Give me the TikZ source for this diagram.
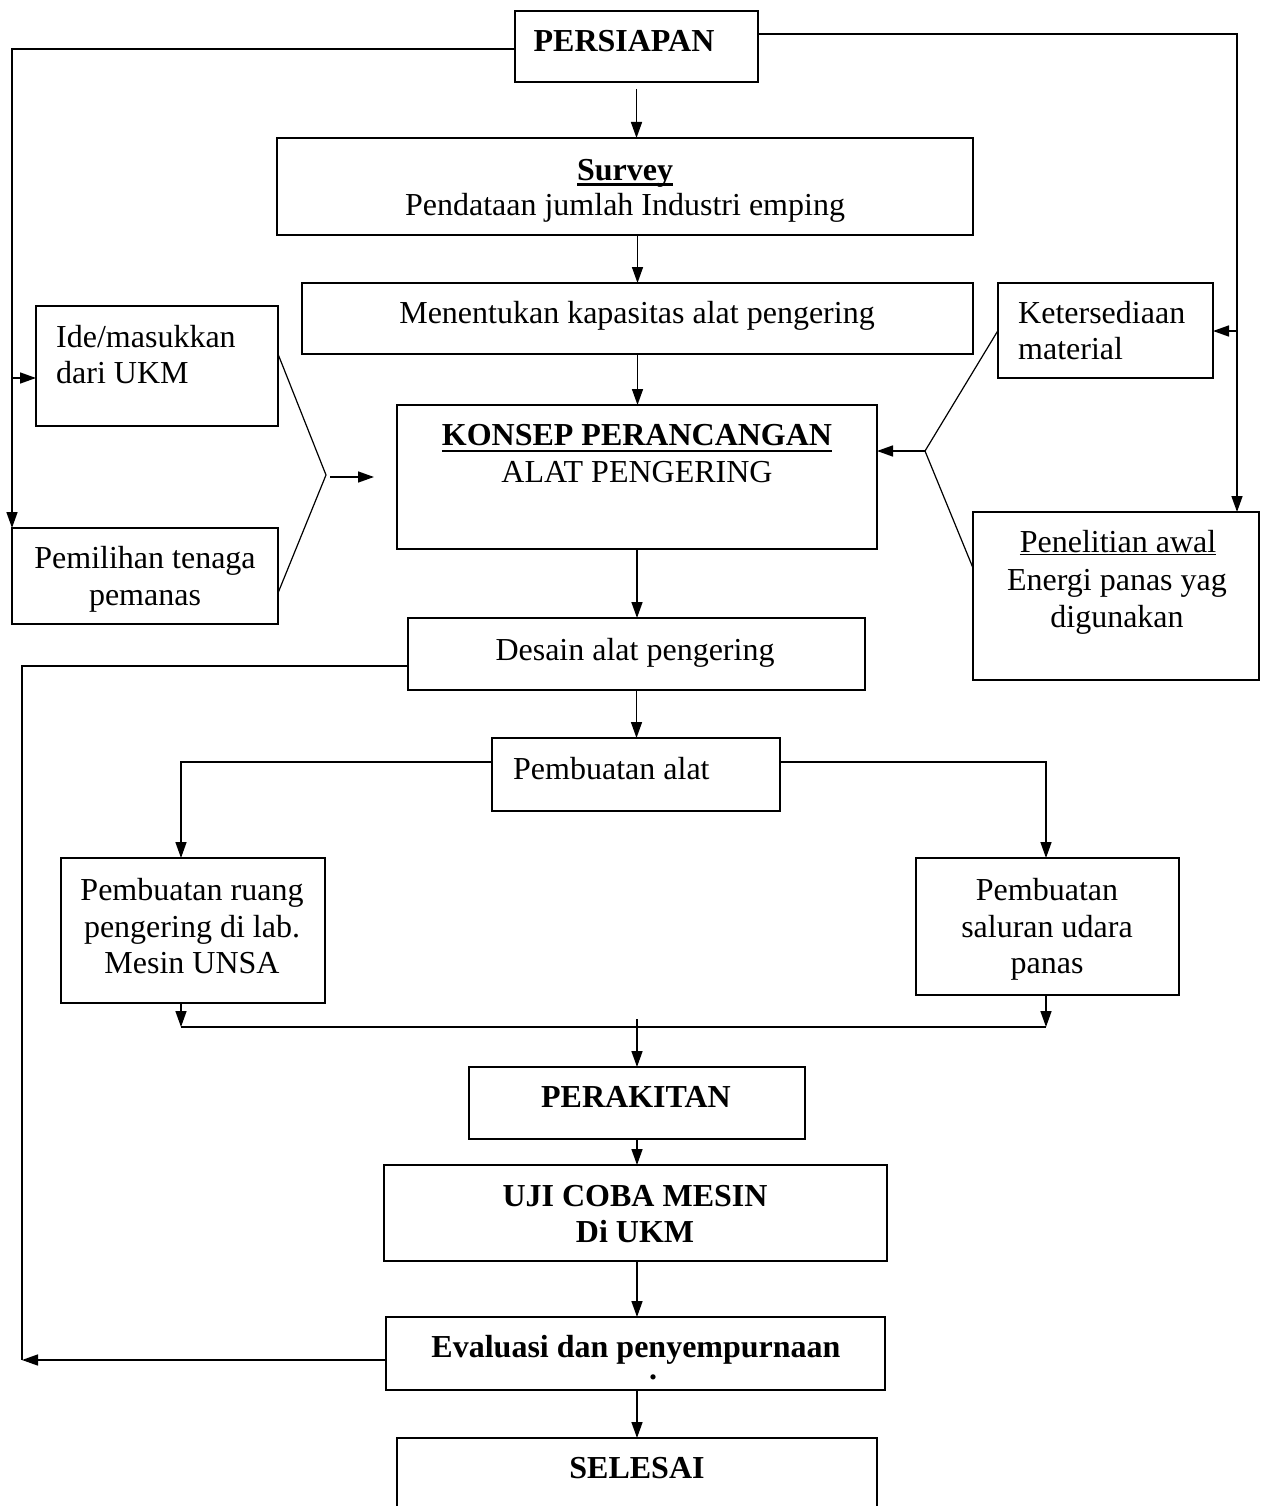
\documentclass[tikz,border=0pt]{standalone}
\usepackage{fontspec}
\setmainfont{Liberation Serif}
\usetikzlibrary{arrows.meta}
\newcommand\myul[4]{\setbox0\hbox{#4}\rlap{\rule[#1]{\wd0}{#2}}\box0\hspace{#3}}
\begin{document}
\begin{tikzpicture}[x=1pt,y=-1pt,
  box/.style={draw, line width=1.8pt, inner sep=0pt, outer sep=0pt},
  conn/.style={line width=1.5pt},
  thinconn/.style={line width=1.2pt},
  arr/.style={conn, -{Triangle[length=16pt,width=11pt]}},
  txt/.style={inner sep=0pt, anchor=base, font=\fontsize{32pt}{37pt}\selectfont},
  txtl/.style={txt, anchor=base west}]
\useasboundingbox (0,0) rectangle (1261,1506);

% boxes
\node[box, minimum width=243pt, minimum height=71pt] (persiapan) at (636.5,46.5) {};
\node[box, minimum width=696pt, minimum height=97pt] (survey) at (625,186.5) {};
\node[box, minimum width=671pt, minimum height=71pt] (menentukan) at (637.5,318.5) {};
\node[box, minimum width=242pt, minimum height=120pt] (ide) at (157,366) {};
\node[box, minimum width=215pt, minimum height=95pt] (keters) at (1105.5,330.5) {};
\node[box, minimum width=480pt, minimum height=144pt] (konsep) at (637,477) {};
\node[box, minimum width=266pt, minimum height=96pt] (pemilihan) at (145,576) {};
\node[box, minimum width=286pt, minimum height=168pt] (penelitian) at (1116,596) {};
\node[box, minimum width=457pt, minimum height=72pt] (desain) at (636.5,654) {};
\node[box, minimum width=288pt, minimum height=73pt] (alat) at (636,774.5) {};
\node[box, minimum width=264pt, minimum height=145pt] (ruang) at (193,930.5) {};
\node[box, minimum width=263pt, minimum height=137pt] (saluran) at (1047.5,926.5) {};
\node[box, minimum width=336pt, minimum height=72pt] (perakitan) at (637,1103) {};
\node[box, minimum width=503pt, minimum height=96pt] (uji) at (635.5,1213) {};
\node[box, minimum width=499pt, minimum height=73pt] (evaluasi) at (635.5,1353.5) {};
\node[box, minimum width=480pt, minimum height=92pt] (selesai) at (637,1484) {};

% texts
\node[txt] (tPers) at (624,52) {\textbf{PERSIAPAN}};
\node[txt] (tSurv) at (625,181) {\myul{-5pt}{2.5pt}{0pt}{\textbf{Survey}}};
\node[txt] (tPend) at (625,216) {Pendataan jumlah Industri emping};
\node[txt] (tMen) at (637,323) {Menentukan kapasitas alat pengering};
\node[txtl] (tIde1) at (56,347) {Ide/masukkan};
\node[txtl] (tIde2) at (56,383) {dari UKM};
\node[txtl] (tKet1) at (1018,323) {Ketersediaan};
\node[txtl] (tKet2) at (1018,359) {material};
\node[txt] (tKon1) at (637,445) {\myul{-7pt}{2.5pt}{0pt}{\textbf{KONSEP PERANCANGAN}}};
\node[txt] (tKon2) at (637,482) {ALAT PENGERING};
\node[txt] (tPem1) at (145,568) {Pemilihan tenaga};
\node[txt] (tPem2) at (145,605) {pemanas};
\node[txt] (tPen1) at (1118,552) {\myul{-3pt}{1.5pt}{0pt}{Penelitian awal}};
\node[txt] (tPen2) at (1117,590) {Energi panas yag};
\node[txt] (tPen3) at (1117,627) {digunakan};
\node[txt] (tDes) at (635,660) {Desain alat pengering};
\node[txtl] (tAlat) at (513,779) {Pembuatan alat};
\node[txt] (tRu1) at (192,900) {Pembuatan ruang};
\node[txt] (tRu2) at (192,937) {pengering di lab.};
\node[txt] (tRu3) at (192,973) {Mesin UNSA};
\node[txt] (tSa1) at (1047,900) {Pembuatan};
\node[txt] (tSa2) at (1047,937) {saluran udara};
\node[txt] (tSa3) at (1047,973) {panas};
\node[txt] (tPer) at (636,1107) {\textbf{PERAKITAN}};
\node[txt] (tUji1) at (635,1206) {\textbf{UJI COBA MESIN}};
\node[txt] (tUji2) at (635,1242) {\textbf{Di UKM}};
\node[txt] (tEva) at (636,1357) {\textbf{Evaluasi dan penyempurnaan}};
\node[txt] (tDot) at (653,1379) {\textbf{.}};
\node[txt] (tSel) at (637,1478) {\textbf{SELESAI}};

% coordinates
\coordinate (lb) at (12,378);
\coordinate (rb) at (1237,331);
\coordinate (jl) at (181,1027);
\coordinate (jr) at (1046,1027);
\coordinate (jm) at (637,1019);
\coordinate (fb) at (22,666);
\coordinate (fe) at (22,1360);
\coordinate (vl) at (326,475);
\coordinate (al) at (330,477);
\coordinate (al2) at (374,477);
\coordinate (vr) at (925,451);

% outer branches from PERSIAPAN
\draw[arr] ([yshift=-2.5pt]persiapan.west) -| (pemilihan.north west);
\draw[arr] (lb) -- (lb -| ide.west);
\draw[arr] ([yshift=12.5pt]persiapan.east) -| (rb |- penelitian.north);
\draw[arr] (rb) -- (rb -| keters.east);

% spine
\draw[arr] ([yshift=-7pt]persiapan.south) -- (persiapan.south |- survey.north);
\draw[arr] (menentukan.north |- survey.south) -- (menentukan.north);
\draw[arr] (menentukan.south) -- (menentukan.south |- konsep.north);
\draw[arr] (konsep.south) -- (konsep.south |- desain.north);
\draw[arr] (desain.south) -- (desain.south |- alat.north);

% Pembuatan alat branches
\draw[arr] ([yshift=12.5pt]alat.west) -| (jl |- ruang.north);
\draw[arr] ([yshift=12.5pt]alat.east) -| (jr |- saluran.north);
\draw[arr] (jl |- ruang.south) -- (jl);
\draw[arr] (jr |- saluran.south) -- (jr);
\draw[conn] (jl) -- (jr);
\draw[arr] (jm) -- (jm |- perakitan.north);
\draw[arr] (perakitan.south) -- (perakitan.south |- uji.north);
\draw[arr] (perakitan.south |- uji.south) -- (perakitan.south |- evaluasi.north);
\draw[arr] (evaluasi.south -| selesai.north) -- (selesai.north);

% feedback loop
\draw[conn] ([yshift=-12pt]desain.west) -- (fb) -- (fe);
\draw[arr] ([yshift=-6.5pt]evaluasi.west) -- (fe);

% converging inputs
\draw[thinconn] ([yshift=12pt]ide.east) -- (vl) -- ([yshift=-17pt]pemilihan.east);
\draw[arr] (al) -- (al2);
\draw[thinconn] (keters.west) -- (vr) -- ([yshift=28pt]penelitian.west);
\draw[arr] (vr) -- (vr -| konsep.east);
\end{tikzpicture}
\end{document}
